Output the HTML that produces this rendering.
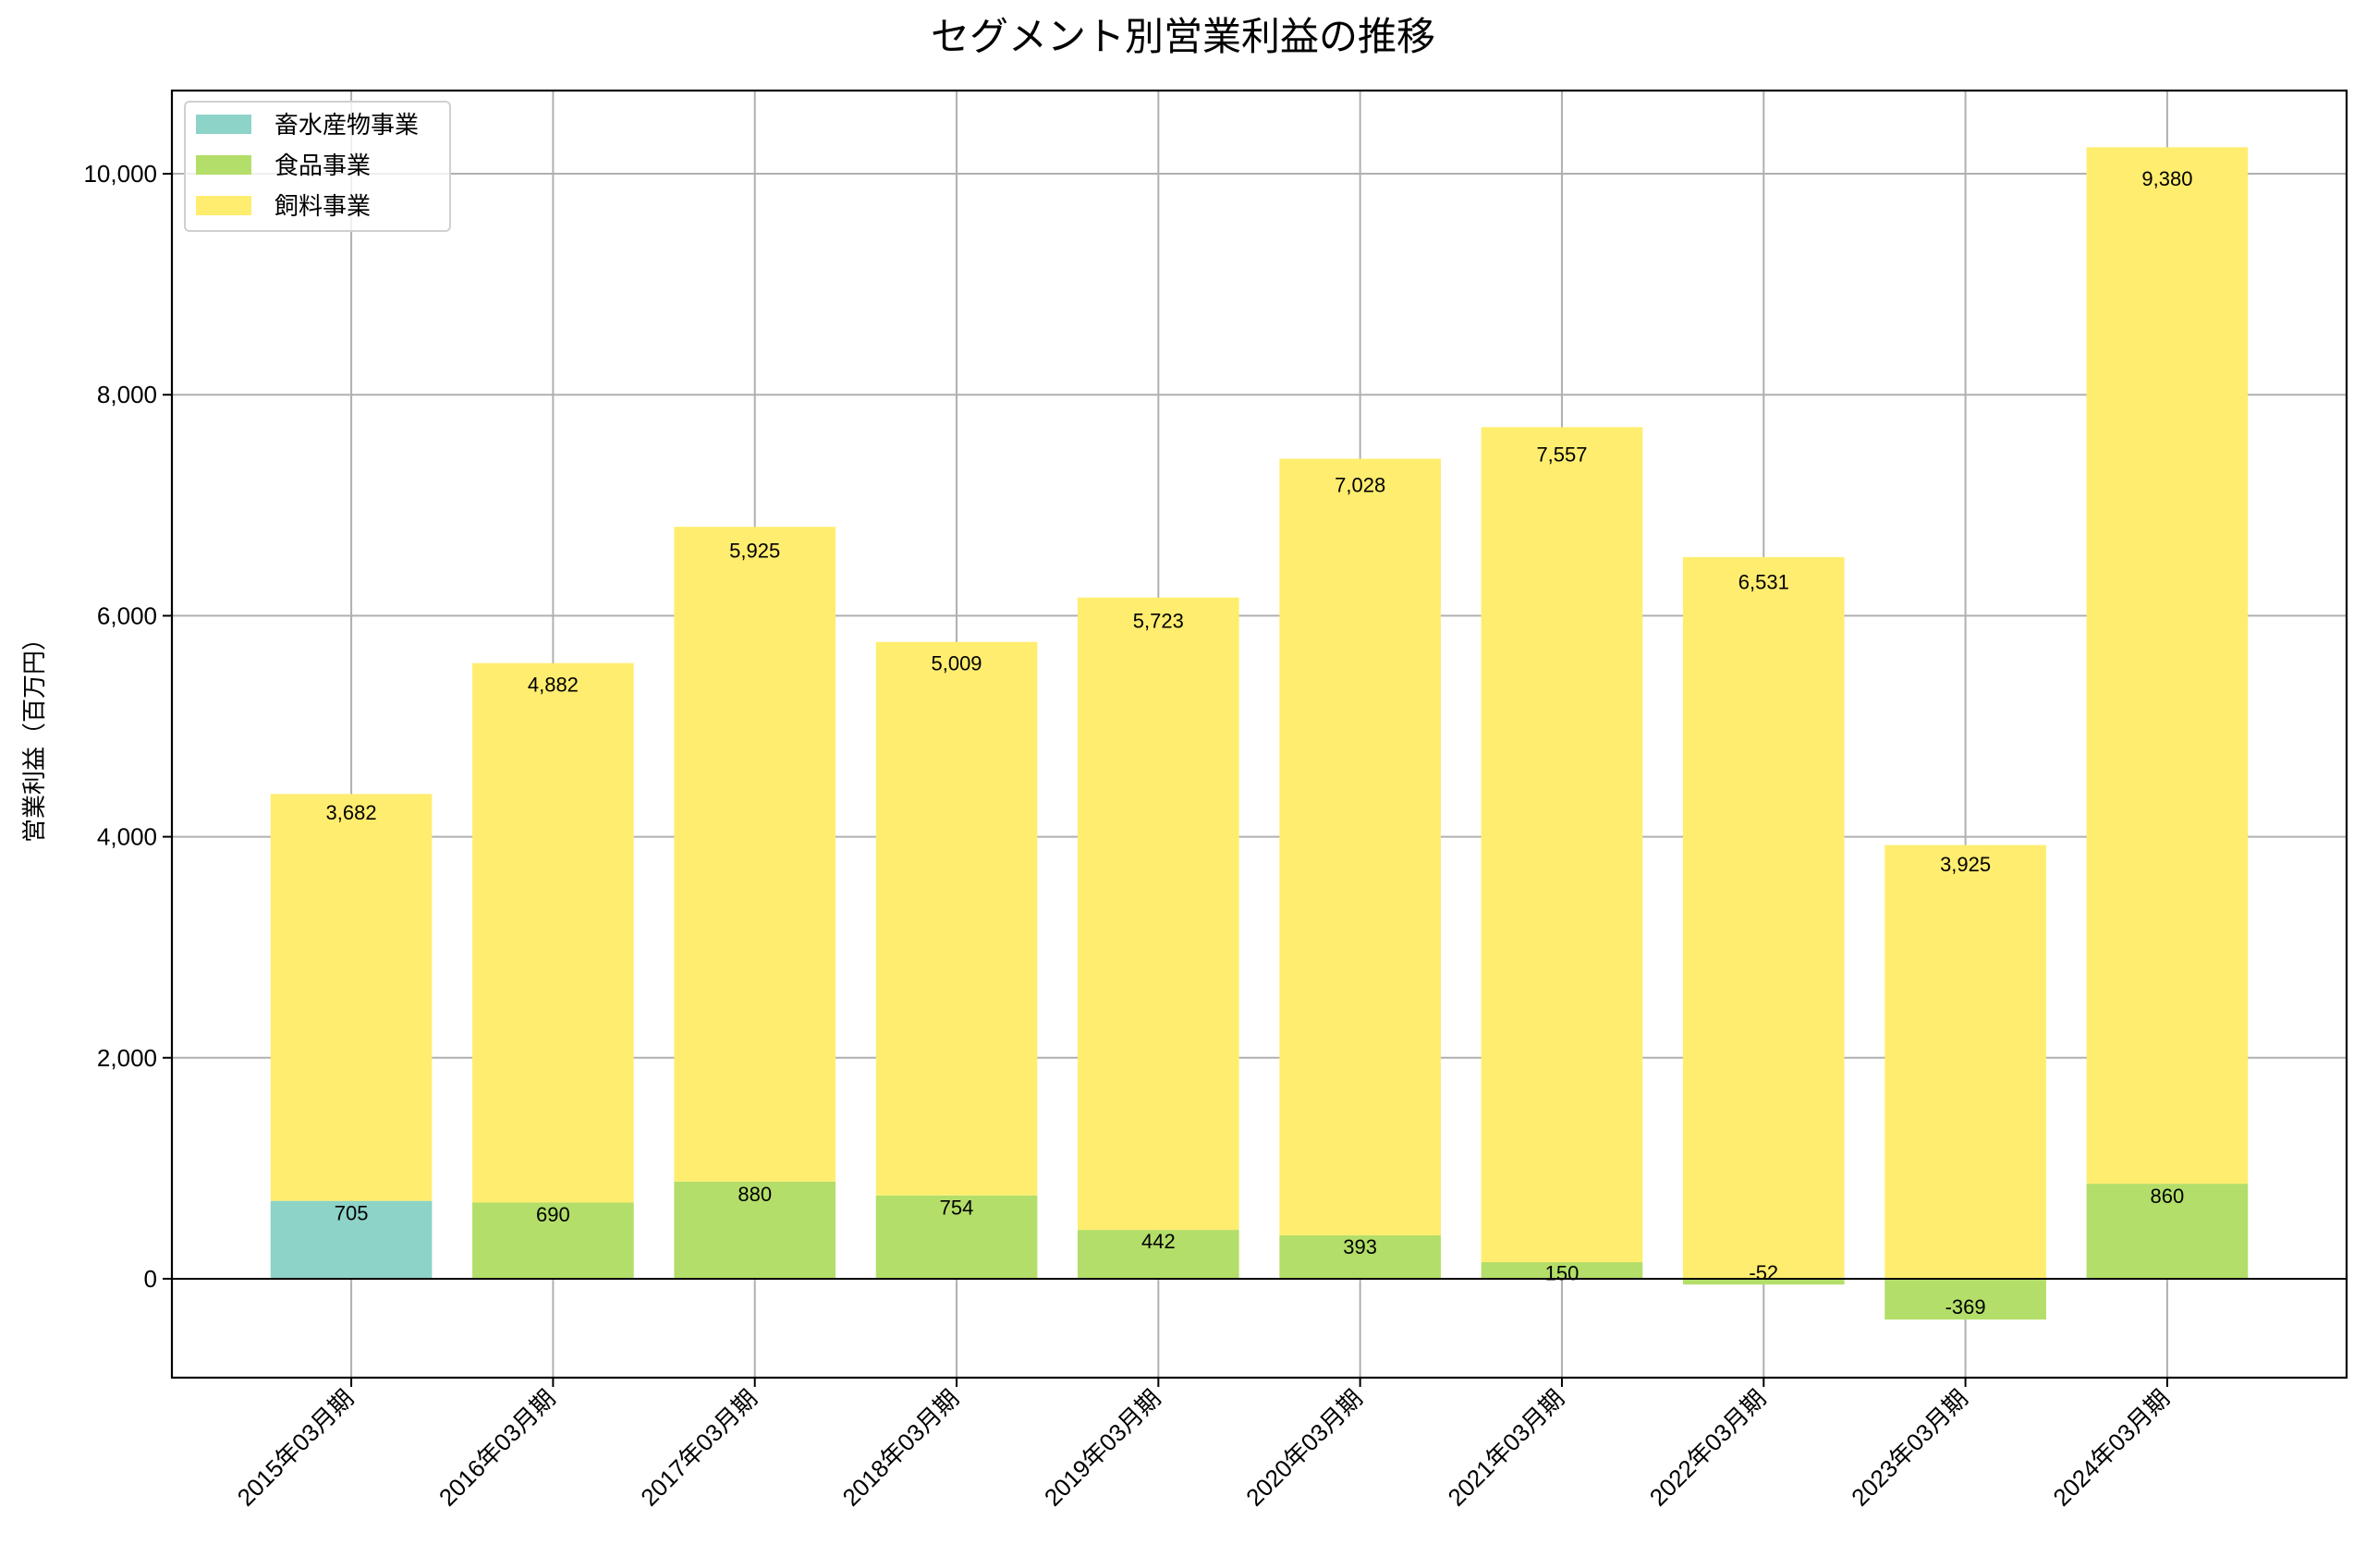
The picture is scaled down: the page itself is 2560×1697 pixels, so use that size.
<!DOCTYPE html>
<html><head><meta charset="utf-8"><style>
html,body{margin:0;padding:0;background:#fff;}
svg{display:block;font-family:"Liberation Sans","Noto Sans CJK JP",sans-serif;}
</style></head><body>
<svg id="chart" width="2560" height="1697" viewBox="0 0 2560 1697" xmlns="http://www.w3.org/2000/svg">
<text x="1280" y="54" text-anchor="middle" font-size="42" fill="#000">セグメント別営業利益の推移</text>
<text transform="translate(46,795) rotate(-90)" text-anchor="middle" font-size="26" fill="#000">営業利益（百万円）</text>
<g id="grid"></g>
<g id="bars"></g>
<g id="labels"></g>
<g id="axes"></g>
<g>
<rect x="200" y="110" width="287" height="140" rx="5" fill="#fff" fill-opacity="0.8" stroke="#d0d0d0" stroke-width="2"/>
<rect x="212" y="124" width="60" height="21" fill="#8dd3c7"/>
<text x="297" y="144" font-size="26">畜水産物事業</text>
<rect x="212" y="168" width="60" height="21" fill="#b3de69"/>
<text x="297" y="188" font-size="26">食品事業</text>
<rect x="212" y="212" width="60" height="21" fill="#ffed6f"/>
<text x="297" y="232" font-size="26">飼料事業</text>
</g>
</svg>
<script>
const categories = ["2015年03月期","2016年03月期","2017年03月期","2018年03月期","2019年03月期","2020年03月期","2021年03月期","2022年03月期","2023年03月期","2024年03月期"];
const livestockValues = [705,0,0,0,0,0,0,0,0,0];
const foodValues = [0,690,880,754,442,393,150,-52,-369,860];
const feedValues = [3682,4882,5925,5009,5723,7028,7557,6531,3925,9380];
const yTicks = [0,2000,4000,6000,8000,10000];
const seriesNames = ["livestock","food","feed"];

const L=186,R=2539,T=98,B=1491;
const xMin=-0.889,xMax=9.889,yMin=-895,yMax=10753;
const NS="http://www.w3.org/2000/svg";
function xs(i){return L+(i-xMin)/(xMax-xMin)*(R-L);}
function ys(v){return B-(v-yMin)/(yMax-yMin)*(B-T);}
function mk(tag,attrs,parent){const e=document.createElementNS(NS,tag);for(const k in attrs)e.setAttribute(k,attrs[k]);parent.appendChild(e);return e;}
const grid=document.getElementById('grid'),bars=document.getElementById('bars'),labels=document.getElementById('labels'),axes=document.getElementById('axes');
const bw=(xs(1)-xs(0))*0.8;
const fmt=v=>v.toLocaleString('en-US');
categories.forEach((c,i)=>{
  const g=mk('line',{x1:xs(i),x2:xs(i),y1:T,y2:B,stroke:'#b0b0b0','stroke-width':2},grid);
  
  
});
yTicks.forEach(v=>{
  const g=mk('line',{x1:L,x2:R,y1:ys(v),y2:ys(v),stroke:'#b0b0b0','stroke-width':2},grid);
  
  
});
const series=[[livestockValues,'#8dd3c7'],[foodValues,'#b3de69'],[feedValues,'#ffed6f']];
categories.forEach((c,i)=>{
  let pos=0,neg=0;
  series.forEach(([vals,col],s)=>{
    const v=vals[i]; if(v===0) return;
    const base=v>=0?pos:neg;
    const end=base+v;
    const r=mk('rect',{x:xs(i)-bw/2,y:Math.min(ys(base),ys(end)),width:bw,height:Math.abs(ys(end)-ys(base)),fill:col},bars);
    
    
    const ly=ys(base+v*0.98);
    const t=mk('text',{x:xs(i),y:v>=0?ly+19:ly-5,'text-anchor':'middle','font-size':22,fill:'#000'},labels);
    t.textContent=fmt(v);
    
    
    if(v>=0) pos=end; else neg=end;
  });
});
const z=mk('line',{x1:L,x2:R,y1:ys(0),y2:ys(0),stroke:'#000','stroke-width':2},axes);


const fr=mk('rect',{x:L,y:T,width:R-L,height:B-T,fill:'none',stroke:'#000','stroke-width':2.2},axes);


yTicks.forEach(v=>{
  const tk=mk('line',{x1:L-10,x2:L,y1:ys(v),y2:ys(v),stroke:'#000','stroke-width':2},axes);
  
  
  const t=mk('text',{x:L-16,y:ys(v)+9,'text-anchor':'end','font-size':26,fill:'#000'},axes);
  t.textContent=fmt(v);
  
  
});
categories.forEach((c,i)=>{
  const tk=mk('line',{x1:xs(i),x2:xs(i),y1:B,y2:B+10,stroke:'#000','stroke-width':2},axes);
  
  
  const x=xs(i)+4,y=B+24;
  const t=mk('text',{x:x,y:y,'text-anchor':'end','font-size':26,fill:'#000',transform:'rotate(-45 '+x+' '+y+')'},axes);
  t.textContent=c;
  
  
});
</script>
</body></html>
